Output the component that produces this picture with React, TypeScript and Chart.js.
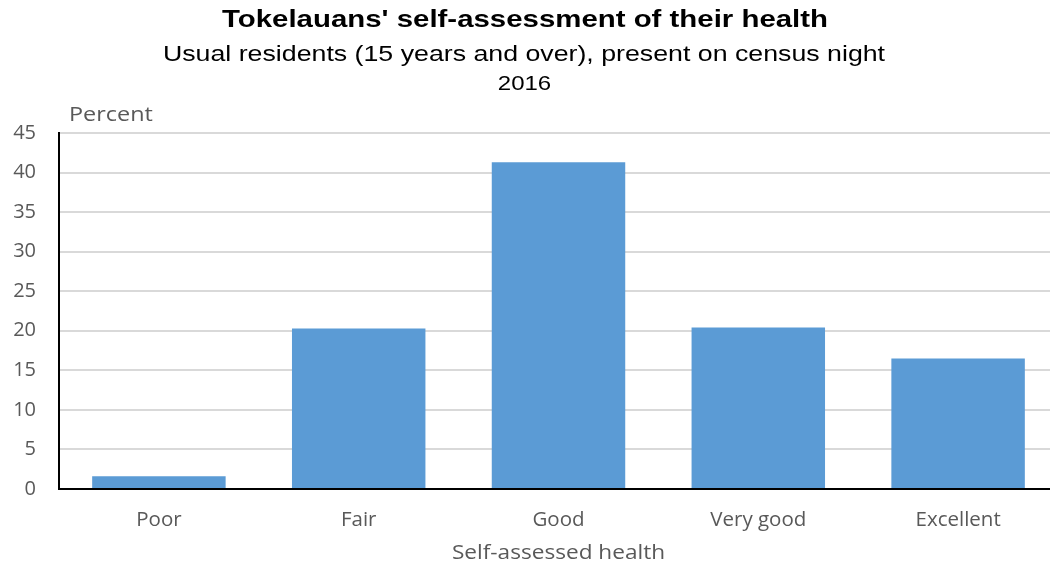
import React, { useEffect, useRef } from "react";
import { Chart, registerables } from "chart.js";

Chart.register(...registerables);

const categories = ["Poor", "Fair", "Good", "Very good", "Excellent"];
const percentValues = [1.6, 20.3, 41.3, 20.4, 16.5];
const yTicks = [0, 5, 10, 15, 20, 25, 30, 35, 40, 45];

const titleText = "Tokelauans' self-assessment of their health";
const subtitleText = "Usual residents (15 years and over), present on census night";
const yearText = "2016";
const yAxisLabel = "Percent";
const xAxisLabel = "Self-assessed health";

const TICK_FONT = "'Open Sans', sans-serif";
const HEAD_FONT = "'Liberation Sans', Arial, sans-serif";

function stretchText(ctx: any, text: string, x: number, y: number, sx: number) {
  ctx.save();
  ctx.translate(x, y);
  ctx.scale(sx, 1);
  ctx.fillText(text, 0, 0);
  ctx.restore();
}

const textPlugin = {
  id: "textPlugin",
  afterDraw(chart: any) {
    const ctx = chart.ctx;
    ctx.save();
    ctx.textAlign = "center";
    ctx.textBaseline = "middle";
    ctx.fillStyle = "#000";
    ctx.font = `bold 24px ${HEAD_FONT}`;
    stretchText(ctx, titleText, 525, 20, 1.225);
    ctx.font = `22px ${HEAD_FONT}`;
    stretchText(ctx, subtitleText, 524, 55, 1.215);
    ctx.font = `20px ${HEAD_FONT}`;
    stretchText(ctx, yearText, 524.5, 84, 1.2);
    ctx.fillStyle = "#595959";
    ctx.textAlign = "left";
    ctx.font = `20px ${TICK_FONT}`;
    stretchText(ctx, yAxisLabel, 69, 115, 1.17);
    ctx.textAlign = "center";
    stretchText(ctx, xAxisLabel, 558.5, 553, 1.13);
    ctx.restore();
  },
};

export default function App() {
  const ref = useRef<HTMLCanvasElement | null>(null);
  useEffect(() => {
    if (!ref.current) return;
    const chart = new Chart(ref.current, {
      type: "bar",
      data: {
        labels: categories,
        datasets: [
          {
            data: percentValues,
            backgroundColor: "#5B9BD5",
            borderWidth: 0,
            barPercentage: 0.668,
            categoryPercentage: 1,
          },
        ],
      },
      options: {
        animation: false,
        responsive: false,
        maintainAspectRatio: false,
        layout: { padding: { top: 133, right: 2, left: 0, bottom: 0 } },
        plugins: {
          legend: { display: false },
          tooltip: { enabled: false },
          title: { display: false },
        },
        scales: {
          x: {
            grid: { display: false, drawTicks: false },
            border: { display: true, color: "#000", width: 2 },
            ticks: {
              color: "#595959",
              font: { family: TICK_FONT, size: 20.5 },
              padding: 19,
            },
            afterFit(scale: any) {
              scale.height = 77;
            },
          },
          y: {
            min: 0,
            max: 45,
            afterBuildTicks(scale: any) {
              scale.ticks = yTicks.map((v) => ({ value: v }));
            },
            grid: { color: "#d9d9d9", lineWidth: 2, drawTicks: false },
            border: { display: true, color: "#000", width: 2 },
            ticks: {
              color: "#595959",
              font: { family: TICK_FONT, size: 20 },
              padding: 23,
            },
            afterFit(scale: any) {
              scale.width = 59;
            },
          },
        },
      },
      plugins: [textPlugin],
    });
    return () => chart.destroy();
  }, []);
  return (
    <div style={{ position: "fixed", left: 0, top: 0, width: 1050, height: 566, overflow: "hidden", background: "#fff" }}>
      <canvas ref={ref} width={1060} height={566} style={{ width: 1060, height: 566, display: "block" }} />
    </div>
  );
}
